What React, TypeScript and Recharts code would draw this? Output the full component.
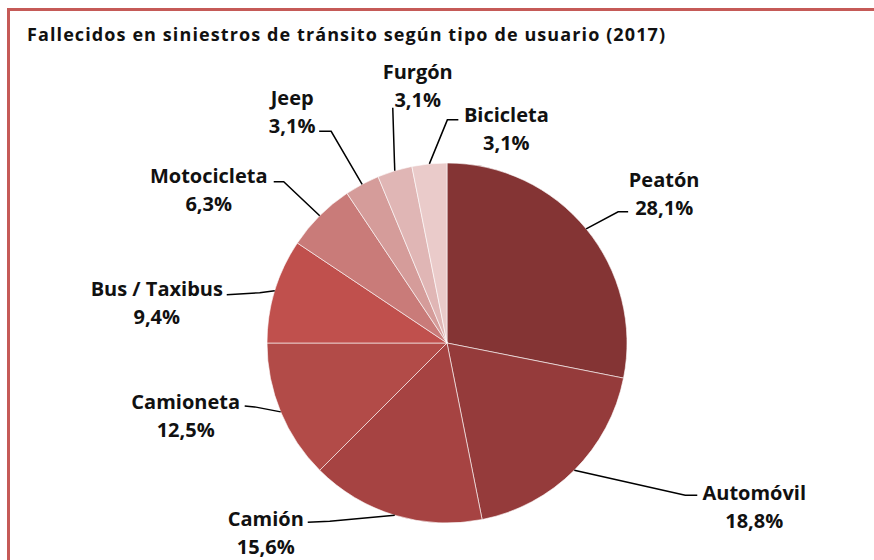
import { PieChart, Pie, Cell } from 'recharts'

const categories = ['Peatón', 'Automóvil', 'Camión', 'Camioneta', 'Bus / Taxibus', 'Motocicleta', 'Jeep', 'Furgón', 'Bicicleta']
const fallecidos = [9, 6, 5, 4, 3, 2, 1, 1, 1]
const colors = ['#843434', '#953b3b', '#a64342', '#b24b48', '#c0504d', '#c97b79', '#d59c9a', '#e0b6b5', '#eacbca']

// leader line elbow / stub end and text centre, relative to the slice's outer edge point
const labelLayout = [
  { elbow: [32, -17], stub: [42, -17], text: [78, -49] },
  { elbow: [111, 25], stub: [123, 25], text: [180, 22] },
  { elbow: [-65, 6], stub: [-87, 7], text: [-129, 3] },
  { elbow: [-26, -5], stub: [-36, -6], text: [-95, -10] },
  { elbow: [-15, 2], stub: [-48, 4], text: [-118, -2] },
  { elbow: [-36, -34], stub: [-46, -34], text: [-111, -40] },
  { elbow: [-31, -53], stub: [-43, -53], text: [-70, -87] },
  { elbow: [-2, -63], stub: [-2, -63], text: [23, -99] },
  { elbow: [18, -44], stub: [29, -44], text: [77, -49] },
]

const total = fallecidos.reduce((a, b) => a + b, 0)
const data = categories.map((name, i) => ({
  name,
  value: fallecidos[i],
  pct: ((fallecidos[i] / total) * 100).toFixed(1).replace('.', ',') + '%',
}))

const FONT = '"Open Sans", Lato, sans-serif'
const RAD = Math.PI / 180

function renderLabel(props: any) {
  const { cx, cy, midAngle, outerRadius, index } = props
  const ex = cx + outerRadius * Math.cos(-midAngle * RAD)
  const ey = cy + outerRadius * Math.sin(-midAngle * RAD)
  const l = labelLayout[index]
  const pts = [
    [ex, ey],
    [ex + l.elbow[0], ey + l.elbow[1]],
    [ex + l.stub[0], ey + l.stub[1]],
  ].map(p => p.join(',')).join(' ')
  const tx = ex + l.text[0]
  const ty = ey + l.text[1]
  return (
    <g key={`lbl-${index}`}>
      <polyline points={pts} fill="none" stroke="#000" strokeWidth={1.5} />
      <text x={tx} y={ty} textAnchor="middle" dominantBaseline="central"
        fontFamily={FONT} fontWeight="bold" fontSize={20} fill="#111">
        {data[index].name}
      </text>
      <text x={tx} y={ty + 28} textAnchor="middle" dominantBaseline="central"
        fontFamily={FONT} fontWeight="bold" fontSize={20} fill="#111">
        {data[index].pct}
      </text>
    </g>
  )
}

export default function App() {
  return (
    <div style={{ position: 'absolute', left: 0, top: 0, width: 874, height: 560, overflow: 'hidden', background: '#fff' }}>
      <div style={{
        position: 'absolute', left: 7, top: 8, width: 900, height: 600,
        border: '3px solid #c55a57', boxSizing: 'border-box',
      }} />
      <div style={{
        position: 'absolute', left: 27, top: 22, fontFamily: FONT, fontWeight: 'bold',
        fontSize: 18, color: '#111', whiteSpace: 'nowrap', letterSpacing: 1.1,
      }}>
        Fallecidos en siniestros de tránsito según tipo de usuario (2017)
      </div>
      <div style={{ position: 'absolute', left: 0, top: 0 }}>
        <PieChart width={874} height={560} margin={{ top: 0, right: 0, bottom: 0, left: 0 }}>
          <Pie
            data={data}
            dataKey="value"
            nameKey="name"
            cx={447}
            cy={343}
            outerRadius={180}
            startAngle={90}
            endAngle={-270}
            stroke="#ffffff"
            strokeWidth={0.6}
            label={renderLabel}
            labelLine={false}
            isAnimationActive={false}
          >
            {data.map((d, i) => (
              <Cell key={d.name} fill={colors[i]} />
            ))}
          </Pie>
        </PieChart>
      </div>
    </div>
  )
}
